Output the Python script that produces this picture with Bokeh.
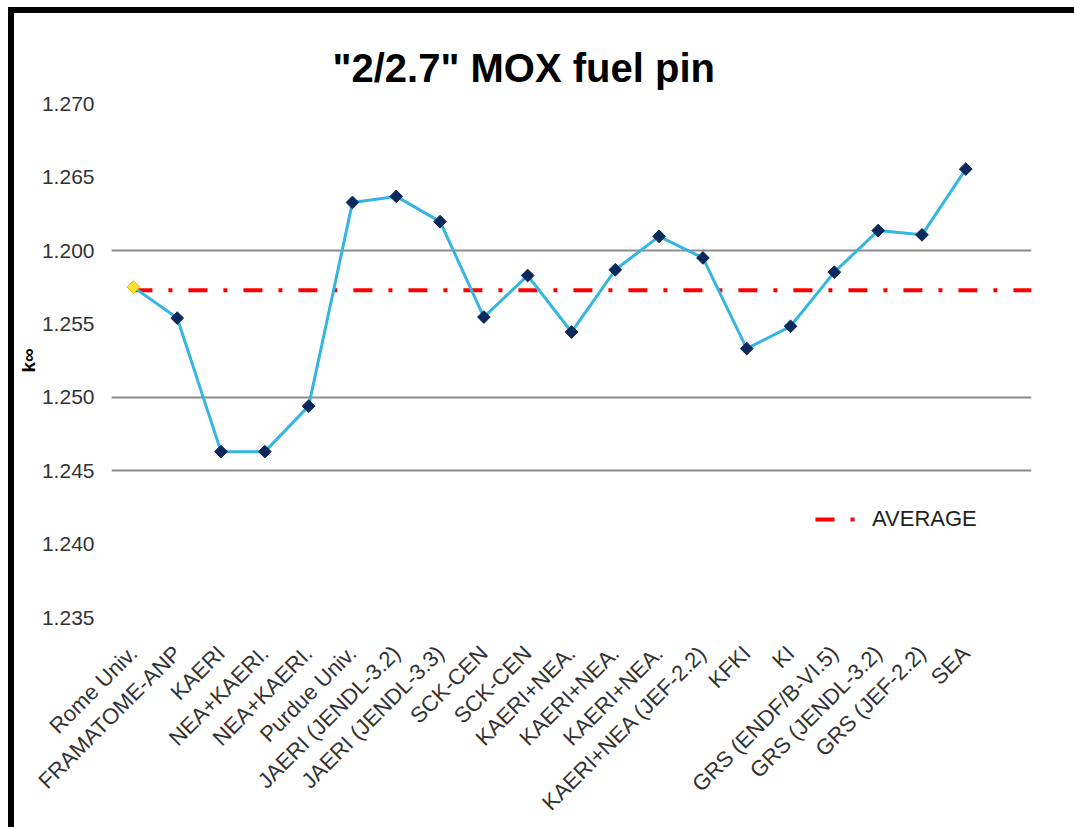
import math
from bokeh.plotting import figure
from bokeh.models import FixedTicker, Range1d, Legend, LegendItem
from bokeh.embed import file_html
from bokeh.resources import INLINE

# ---------------- data ----------------
categories = [
    "Rome Univ.", "FRAMATOME-ANP", "KAERI", "NEA+KAERI.", "NEA+KAERI.",
    "Purdue Univ.", "JAERI (JENDL-3.2)", "JAERI (JENDL-3.3)", "SCK-CEN", "SCK-CEN",
    "KAERI+NEA.", "KAERI+NEA.", "KAERI+NEA.", "KAERI+NEA (JEF-2.2)", "KFKI",
    "KI", "GRS (ENDF/B-VI.5)", "GRS (JENDL-3.2)", "GRS (JEF-2.2)", "SEA",
]
kinf = [
    1.25751, 1.25540, 1.24630, 1.24630, 1.24940,
    1.26328, 1.26369, 1.26197, 1.25547, 1.25830,
    1.25445, 1.25869, 1.26097, 1.25950, 1.25332,
    1.25484, 1.25853, 1.26136, 1.26107, 1.26555,
]
average = 1.2573
y_ticks = [1.235, 1.240, 1.245, 1.250, 1.255, 1.260, 1.265, 1.270]
y_tick_labels = ["1.235", "1.240", "1.245", "1.250", "1.255", "1.200", "1.265", "1.270"]
grid_values = [1.235, 1.245, 1.250, 1.260]
n_slots = 21  # category slots on the axis (last one empty)

FONT = "Liberation Sans"

xs = list(range(len(categories)))

W, H = 1060, 814
p = figure(width=W, height=H, output_backend="svg", toolbar_location=None,
           x_range=Range1d(-0.5, n_slots - 0.5), y_range=Range1d(1.235, 1.27002),
           min_border_left=97, min_border_right=43, min_border_top=90,
           min_border_bottom=209)
p.outline_line_color = None
p.background_fill_color = "white"
p.border_fill_color = "white"
# page placement and the black top/left edges of the picture
p.styles = {
    "margin-left": "14px",
    "margin-top": "13px",
    "box-shadow": "-6px -6px 0 0 #000000, 0 -6px 0 0 #000000, -6px 0 0 0 #000000",
}

# title
p.title.text = '"2/2.7" MOX fuel pin'
p.title.text_font = FONT
p.title.text_font_style = "bold"
p.title.text_font_size = "40px"
p.title.text_color = "#000000"
p.title.align = "left"
p.title.offset = 221
p.title.standoff = 27

# grid
p.xgrid.visible = False
p.ygrid.ticker = FixedTicker(ticks=grid_values)
p.ygrid.grid_line_color = "#8c8c8c"
p.ygrid.grid_line_width = 2

# y axis
p.yaxis.ticker = FixedTicker(ticks=y_ticks)
p.yaxis.major_label_overrides = {t: l for t, l in zip(y_ticks, y_tick_labels)}
p.yaxis.axis_line_color = None
p.yaxis.major_tick_line_color = None
p.yaxis.minor_tick_line_color = None
p.yaxis.major_label_standoff = 11
p.yaxis.major_label_text_font = FONT
p.yaxis.major_label_text_font_size = "21px"
p.yaxis.major_label_text_color = "#333333"
p.yaxis.axis_label = "k\u221e"
p.yaxis.axis_label_text_font = FONT
p.yaxis.axis_label_text_font_style = "bold"
p.yaxis.axis_label_text_font_size = "19px"
p.yaxis.axis_label_text_color = "#000000"
p.yaxis.axis_label_standoff = 0

# x axis
p.xaxis.ticker = FixedTicker(ticks=xs)
p.xaxis.major_label_overrides = {i: c for i, c in enumerate(categories)}
p.xaxis.major_label_orientation = math.pi / 4
p.xaxis.axis_line_color = None
p.xaxis.major_tick_line_color = None
p.xaxis.minor_tick_line_color = None
p.xaxis.major_label_standoff = 26
p.xaxis.major_label_text_font = FONT
p.xaxis.major_label_text_font_size = "22px"
p.xaxis.major_label_text_color = "#333333"

# average line
r_avg = p.line([0, n_slots - 0.5], [average, average], line_color="#ff0000",
               line_width=4, line_dash="19 16 4 16")

# series
p.line(xs, kinf, line_color="#35b6e2", line_width=3)
p.scatter(xs[1:], kinf[1:], marker="square", angle=math.pi / 4, size=9,
          fill_color="#0b2a5b", line_color="#0b2a5b")
p.scatter(xs[:1], kinf[:1], marker="square", angle=math.pi / 4, size=9,
          fill_color="#ffe033", line_color="#d6b800")

legend = Legend(items=[LegendItem(label="AVERAGE", renderers=[r_avg])],
                location=(704, 85), glyph_width=42, glyph_height=20,
                label_text_font=FONT, label_text_font_size="22px",
                label_text_color="#222222", border_line_color=None,
                background_fill_alpha=0, padding=0, margin=0, label_standoff=15)
p.add_layout(legend)

open("out.html", "w").write(file_html(p, INLINE))
